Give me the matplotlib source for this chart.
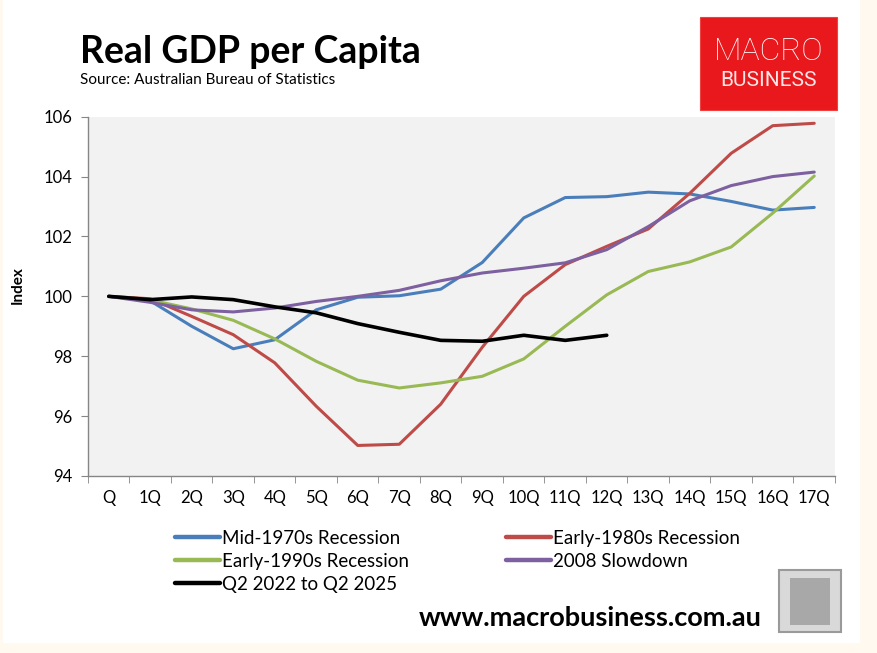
import matplotlib
matplotlib.use("Agg")
import matplotlib.pyplot as plt
from matplotlib.patches import Rectangle
import numpy as np

plt.rcParams['font.family'] = ['Lato', 'DejaVu Sans']

# Chart data (index, start of episode = 100)
quarters = ["Q", "1Q", "2Q", "3Q", "4Q", "5Q", "6Q", "7Q", "8Q", "9Q",
            "10Q", "11Q", "12Q", "13Q", "14Q", "15Q", "16Q", "17Q"]
mid_1970s = [100.0, 99.85, 99.0, 98.25, 98.55, 99.55, 99.97, 100.02, 100.24, 101.13,
             102.62, 103.3, 103.33, 103.48, 103.42, 103.17, 102.88, 102.97]
early_1980s = [100.0, 99.92, 99.33, 98.72, 97.78, 96.33, 95.02, 95.06, 96.4, 98.3,
               100.0, 101.06, 101.67, 102.25, 103.44, 104.78, 105.7, 105.78]
early_1990s = [100.0, 99.88, 99.58, 99.2, 98.58, 97.83, 97.2, 96.94, 97.11, 97.33,
               97.91, 99.0, 100.05, 100.83, 101.15, 101.65, 102.78, 104.02]
slowdown_2008 = [100.0, 99.8, 99.55, 99.48, 99.61, 99.83, 100.0, 100.2, 100.52, 100.78,
                 100.94, 101.12, 101.56, 102.33, 103.19, 103.7, 104.0, 104.15]
recent = [100.0, 99.89, 99.98, 99.89, 99.65, 99.45, 99.09, 98.8, 98.53, 98.5,
          98.7, 98.53, 98.7]

series = [
    ("Mid-1970s Recession", mid_1970s, "#4A7EBB"),
    ("Early-1980s Recession", early_1980s, "#BE4B48"),
    ("Early-1990s Recession", early_1990s, "#98B954"),
    ("2008 Slowdown", slowdown_2008, "#7D60A0"),
    ("Q2 2022 to Q2 2025", recent, "#000000"),
]

W, H = 878, 653
fig = plt.figure(figsize=(W / 100, H / 100), dpi=100, facecolor="#FFF9EF")


def fx(px):
    return px / W


def fy(py):
    return 1 - py / H


# white card behind everything
fig.patches.append(Rectangle((fx(3), fy(643)), fx(860) - fx(3), fy(0) - fy(643),
                             transform=fig.transFigure, facecolor="white",
                             edgecolor="none", zorder=-5))

ax = fig.add_axes([fx(88), fy(476), fx(835) - fx(88), fy(116.7) - fy(476)])
ax.set_facecolor("#F2F2F2")

handles = {}
for name, vals, col in series:
    x = np.arange(len(vals))
    lw = 2.6 if col == "#000000" else 2.2
    ln, = ax.plot(x, vals, color=col, lw=lw, solid_capstyle="round",
                  solid_joinstyle="round", label=name)
    handles[name] = ln

ax.set_xlim(-0.5, len(quarters) - 0.5)
ax.set_ylim(94, 106)
ax.set_yticks(np.arange(94, 107, 2))
ax.set_xticks(np.arange(len(quarters)))
ax.set_xticklabels(quarters)
ax.set_xticks(np.arange(len(quarters) + 1) - 0.5, minor=True)
ax.tick_params(axis="x", which="major", length=0, pad=10, labelsize=12)
ax.tick_params(axis="x", which="minor", length=5, color="#868686", direction="out")
ax.tick_params(axis="y", length=5, color="#868686", direction="out", labelsize=12, pad=6)
for s in ["top", "right"]:
    ax.spines[s].set_visible(False)
for s in ["left", "bottom"]:
    ax.spines[s].set_color("#868686")
    ax.spines[s].set_linewidth(1.0)

fig.text(fx(18), fy(285), "Index", rotation=90, ha="center", va="center",
         fontsize=11, fontweight="bold")

# legend: row-wise ordering like Excel
order = ["Mid-1970s Recession", "Early-1990s Recession", "Q2 2022 to Q2 2025",
         "Early-1980s Recession", "2008 Slowdown"]
leg = fig.legend([handles[n] for n in order], order, ncol=2, loc="upper left",
                 bbox_to_anchor=(fx(175), fy(530)), frameon=False, fontsize=13.5,
                 handlelength=2.4, handletextpad=0.1, labelspacing=0.32,
                 columnspacing=5.2, borderaxespad=0, borderpad=0)
for lh in leg.get_lines():
    lh.set_linewidth(3.2)

# titles
fig.text(fx(80), fy(63), "Real GDP per Capita", fontsize=27, fontweight="bold",
         ha="left", va="baseline")
fig.text(fx(80), fy(84), "Source: Australian Bureau of Statistics", fontsize=11,
         ha="left", va="baseline")

# logo box
fig.patches.append(Rectangle((fx(700), fy(110)), fx(837) - fx(700), fy(17) - fy(110),
                             transform=fig.transFigure, facecolor="#E8181C",
                             edgecolor="#F04040", lw=0.8, zorder=1))
fig.text(fx(768.5), fy(52), "MACRO", color="white", fontsize=23, ha="center",
         va="center", family="Roboto", fontweight="light", zorder=2)
fig.text(fx(768.5), fy(80), "BUSINESS", color="#FFE6E6", fontsize=15, ha="center",
         va="center", family="Roboto", zorder=2)

# website
fig.text(fx(762), fy(618), "www.macrobusiness.com.au", fontsize=19.5, fontweight="bold",
         ha="right", va="center")

# wolf badge placeholder
fig.patches.append(Rectangle((fx(779), fy(632)), fx(841) - fx(779), fy(570) - fy(632),
                             transform=fig.transFigure, facecolor="#D9D9D9",
                             edgecolor="#9A9A9A", lw=1.5, zorder=1))
fig.patches.append(Rectangle((fx(790), fy(625)), fx(830) - fx(790), fy(578) - fy(625),
                             transform=fig.transFigure, facecolor="#A8A8A8",
                             edgecolor="none", zorder=2))

fig.savefig("out.png", dpi=100, facecolor=fig.get_facecolor())
